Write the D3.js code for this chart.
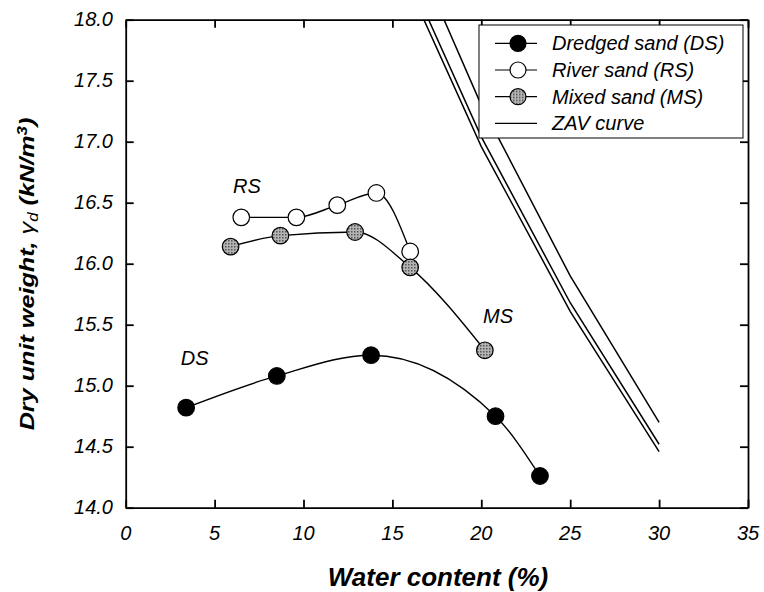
<!DOCTYPE html>
<meta charset="utf-8">
<style>
body { margin: 0; background: #fff; }
svg text { font-family: Arial, "Liberation Sans", sans-serif; font-style: italic; fill: #000; }
.axis path, .axis line { stroke: #000; stroke-width: 1.8; }
</style>
<body>
<svg width="764" height="592"></svg>
<script src="https://cdn.jsdelivr.net/npm/d3@7"></script>
<script>

// values
var dsWater = [3.4, 8.5, 13.8, 20.8, 23.3];
var dsUnit  = [14.82, 15.08, 15.25, 14.75, 14.26];
var rsWater = [6.5, 9.6, 11.9, 14.1, 16.0];
var rsUnit  = [16.38, 16.38, 16.48, 16.58, 16.10];
var msWater = [5.9, 8.7, 12.9, 16.0, 20.2];
var msUnit  = [16.14, 16.23, 16.26, 15.97, 15.29];

var zavWater = [15, 20, 25, 30];
var zavUnits = [
  [18.57, 16.96, 15.61, 14.46],
  [18.66, 17.04, 15.68, 14.52],
  [18.97, 17.30, 15.90, 14.70]
];

var xTicks = [0, 5, 10, 15, 20, 25, 30, 35];
var yTicks = [14.0, 14.5, 15.0, 15.5, 16.0, 16.5, 17.0, 17.5, 18.0];

var legendNames = ["Dredged sand (DS)", "River sand (RS)", "Mixed sand (MS)", "ZAV curve"];
var legendFills = ["#000", "#fff", "url(#stipple)", null];

var labelNames = ["RS", "DS", "MS"];
var labelWater = [6.04, 3.1, 20.1];
var labelUnit  = [16.58, 15.17, 15.51];

var svg = d3.select("svg");
var pLeft = 125.7, pRight = 748, pTop = 19.7, pBottom = 507.7;

var x = d3.scaleLinear().domain([0, 35]).range([pLeft, pRight]);
var y = d3.scaleLinear().domain([14, 18]).range([pBottom, pTop]);

var defs = svg.append("defs");
defs.append("clipPath").attr("id", "plotclip")
  .append("rect")
    .attr("x", pLeft).attr("y", pTop)
    .attr("width", pRight - pLeft).attr("height", pBottom - pTop);

// grey halftone fill for the mixed sand symbols
var pat = defs.append("pattern").attr("id", "stipple")
    .attr("patternUnits", "userSpaceOnUse")
    .attr("width", 3).attr("height", 3);
pat.append("rect").attr("width", 3).attr("height", 3).attr("fill", "#b4b4b4");
pat.append("rect").attr("width", 1.5).attr("height", 1.5).attr("fill", "#555");

// axes, ticks pointing inward on all four sides
var tk = 8;
svg.append("g").attr("class", "axis")
    .attr("transform", "translate(0," + pBottom + ")")
    .call(d3.axisBottom(x).tickValues(xTicks).tickSizeInner(-tk).tickSizeOuter(0).tickFormat(""));
svg.append("g").attr("class", "axis")
    .attr("transform", "translate(0," + pTop + ")")
    .call(d3.axisTop(x).tickValues(xTicks).tickSizeInner(-tk).tickSizeOuter(0).tickFormat(""));
svg.append("g").attr("class", "axis")
    .attr("transform", "translate(" + pLeft + ",0)")
    .call(d3.axisLeft(y).tickValues(yTicks).tickSizeInner(-tk).tickSizeOuter(0).tickFormat(""));
svg.append("g").attr("class", "axis")
    .attr("transform", "translate(" + pRight + ",0)")
    .call(d3.axisRight(y).tickValues(yTicks).tickSizeInner(-tk).tickSizeOuter(0).tickFormat(""));

svg.selectAll(".xlab").data(xTicks).enter().append("text")
    .attr("class", "xlab")
    .attr("x", function(d) { return x(d); })
    .attr("y", 540)
    .attr("text-anchor", "middle")
    .attr("font-size", 20)
    .text(function(d) { return d; });

svg.selectAll(".ylab").data(yTicks).enter().append("text")
    .attr("class", "ylab")
    .attr("x", 113)
    .attr("y", function(d) { return y(d) + 6; })
    .attr("text-anchor", "end")
    .attr("font-size", 20)
    .text(function(d) { return d.toFixed(1); });

// axis titles
svg.append("text")
    .attr("x", 438).attr("y", 586)
    .attr("text-anchor", "middle")
    .attr("font-size", 26)
    .attr("font-weight", "bold")
    .text("Water content (%)");

var yt = svg.append("text")
    .attr("transform", "translate(34,274) rotate(-90) scale(1.2,1)")
    .attr("text-anchor", "middle")
    .attr("font-size", 21)
    .attr("font-weight", "bold");
yt.append("tspan").text("Dry unit weight, ");
yt.append("tspan").attr("font-weight", "normal").text("\u03b3");
yt.append("tspan").attr("font-size", 14).attr("font-weight", "normal").attr("baseline-shift", "-25%").text("d");
yt.append("tspan").text(" (kN/m");
yt.append("tspan").attr("font-size", 14).attr("baseline-shift", "super").text("3");
yt.append("tspan").text(")");

// ZAV curves
var plot = svg.append("g").attr("clip-path", "url(#plotclip)");
var zavLine = d3.line()
    .x(function(d, i) { return x(zavWater[i]); })
    .y(function(d) { return y(d); });
plot.selectAll(".zav").data(zavUnits).enter().append("path")
    .attr("class", "zav")
    .attr("d", zavLine)
    .attr("fill", "none")
    .attr("stroke", "#000")
    .attr("stroke-width", 1.5);

// test series
var series = [
  { w: dsWater, v: dsUnit, fill: "#000" },
  { w: rsWater, v: rsUnit, fill: "#fff" },
  { w: msWater, v: msUnit, fill: "url(#stipple)" }
];

series.forEach(function(s) {
  var pts = s.w.map(function(w, i) { return [w, s.v[i]]; });
  svg.append("path")
      .datum(pts)
      .attr("d", d3.line()
        .x(function(d) { return x(d[0]); })
        .y(function(d) { return y(d[1]); })
        .curve(d3.curveMonotoneX))
      .attr("fill", "none")
      .attr("stroke", "#000")
      .attr("stroke-width", 1.4);
  svg.selectAll(null).data(pts).enter().append("circle")
      .attr("cx", function(d) { return x(d[0]); })
      .attr("cy", function(d) { return y(d[1]); })
      .attr("r", 8.3)
      .attr("fill", s.fill)
      .attr("stroke", "#000")
      .attr("stroke-width", 1.2);
});

svg.selectAll(".lbl").data(labelNames).enter().append("text")
    .attr("class", "lbl")
    .attr("x", function(d, i) { return x(labelWater[i]); })
    .attr("y", function(d, i) { return y(labelUnit[i]); })
    .attr("font-size", 20)
    .text(function(d) { return d; });

// legend
var lg = svg.append("g");
lg.append("rect")
    .attr("x", 479).attr("y", 25)
    .attr("width", 264).attr("height", 113)
    .attr("fill", "#fff")
    .attr("stroke", "#000")
    .attr("stroke-width", 1);

var row = lg.selectAll(".row").data(legendNames).enter().append("g")
    .attr("class", "row")
    .attr("transform", function(d, i) { return "translate(0," + (43.3 + i * 26.7) + ")"; });
row.append("line")
    .attr("x1", 495).attr("x2", 537)
    .attr("stroke", "#000").attr("stroke-width", 1.2);
row.filter(function(d, i) { return legendFills[i] !== null; })
  .append("circle")
    .attr("cx", 518).attr("r", 8)
    .attr("fill", function(d) { return legendFills[legendNames.indexOf(d)]; })
    .attr("stroke", "#000").attr("stroke-width", 1.2);
row.append("text")
    .attr("x", 552).attr("y", 7)
    .attr("font-size", 20)
    .text(function(d) { return d; });

</script>
</body>
